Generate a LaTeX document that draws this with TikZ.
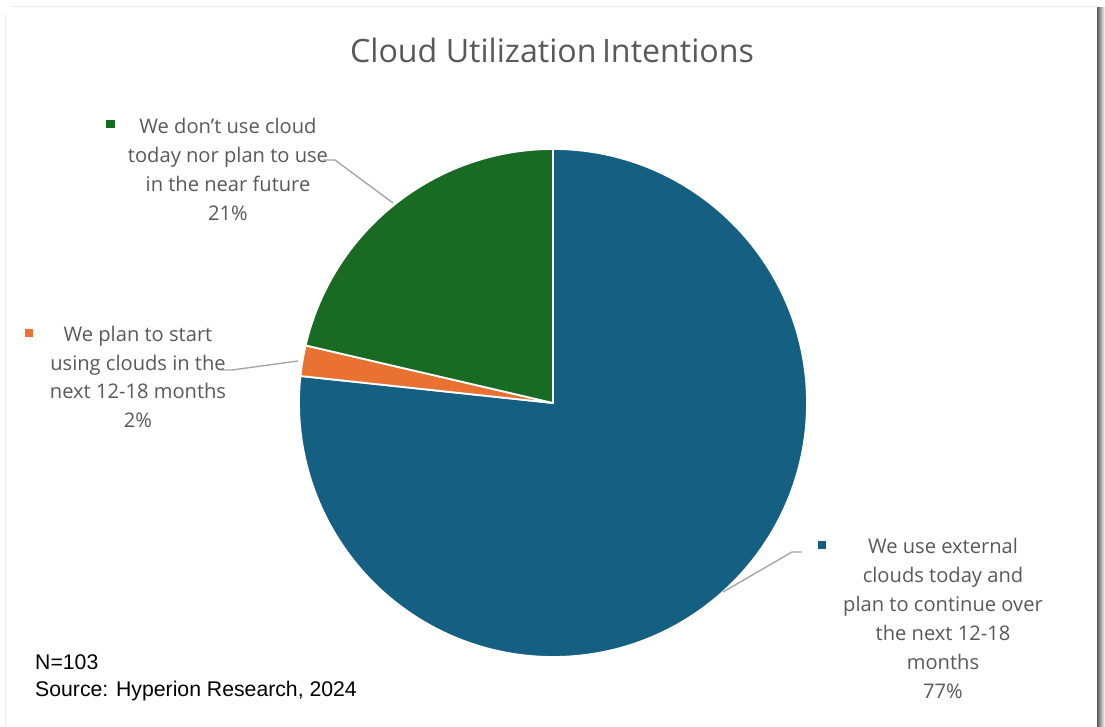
\documentclass[tikz,border=0pt]{standalone}
\usepackage{fontspec}
\setmainfont{Open Sans}
\newfontfamily\arialfont{Liberation Sans}
\definecolor{cblue}{HTML}{156082}
\definecolor{corange}{HTML}{E97132}
\definecolor{cgreen}{HTML}{196B24}
\definecolor{ctext}{HTML}{595959}
\definecolor{clead}{HTML}{A6A6A6}
\begin{document}
\begin{tikzpicture}[x=1bp,y=1bp,
  slice/.style={draw=white,line width=1.8bp,line join=miter},
  lead/.style={draw=clead,line width=1.4bp},
  lbl/.style={text=ctext,align=center,font=\fontsize{20.2}{29}\selectfont,inner sep=0pt},
  mk/.style={minimum size=8.5bp,inner sep=0pt}]
\useasboundingbox (0,0) rectangle (1105,727);
% card frame
\fill[white] (0,0) rectangle (1105,727);
\draw[black!8,line width=1bp] (12,720) -- (1097,720);
\draw[black!8,line width=1bp] (5,713) -- (5,0);
\shade[left color=black!65,right color=white] (1097,0) rectangle (1105,719);
% title
\node[text=ctext,font=\fontsize{32.3}{38}\selectfont,inner sep=0pt] (title) at (552,677) {Cloud Utilization\,Intentions};
% pie
\coordinate (c) at (553,324);
\filldraw[slice,fill=cblue] (c) -- ++(90:254bp) arc[start angle=90,end angle=-186.1,radius=254bp] -- cycle;
\filldraw[slice,fill=corange] (c) -- ++(173.9:254bp) arc[start angle=173.9,end angle=166.9,radius=254bp] -- cycle;
\filldraw[slice,fill=cgreen] (c) -- ++(166.9:254bp) arc[start angle=166.9,end angle=90,radius=254bp] -- cycle;
% anchor points on slices
\coordinate (pg) at (393,524);
\coordinate (po) at (298,366);
\coordinate (pb) at (723,135);
% labels
\node[lbl] (lg) at (228,557.5) {We don’t use cloud\\today nor plan to use\\in the near future\\21\%};
\node[mk,fill=cgreen] (mg) at (110.5,603) {};
\node[lbl] (lo) at (138,350) {We plan to start\\using clouds in the\\next 12-18 months\\2\%};
\node[mk,fill=corange] (mo) at (29,394) {};
\node[lbl] (lb) at (943,108.5) {We use external\\clouds today and\\plan to continue over\\the next 12-18\\months\\77\%};
\node[mk,fill=cblue] (mb) at (822,182) {};
% leaders
\draw[lead] (323,567) -- (335,567) -- (pg);
\draw[lead] (222,357) -- (232,357) -- (po);
\draw[lead] (pb) -- (792,175) -- (802,175);
% footnote
\node[anchor=base west,inner sep=0pt,font=\arialfont\fontsize{21.3}{27}\selectfont] (n) at (35,57) {N=103};
\node[anchor=base west,inner sep=0pt,font=\arialfont\fontsize{21.3}{27}\selectfont] (src) at (35,30) {Source: Hyperion Research, 2024};
\end{tikzpicture}
\end{document}
